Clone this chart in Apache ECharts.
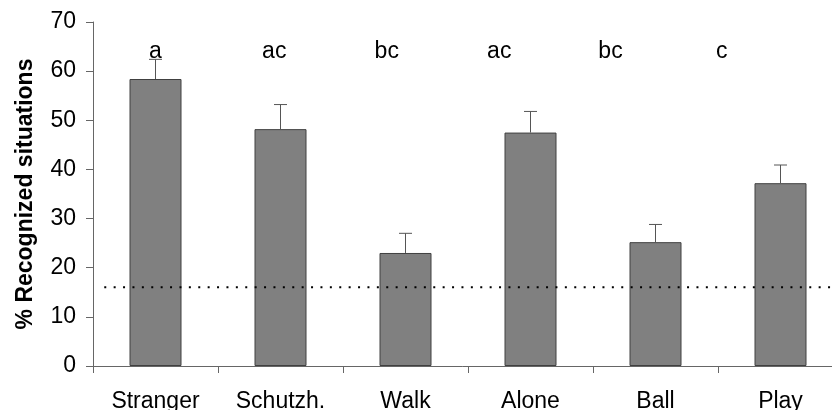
<!DOCTYPE html>
<html>
<head>
<meta charset="utf-8">
<script src="https://cdn.jsdelivr.net/npm/echarts@6/dist/echarts.min.js"></script>
<style>
html,body{margin:0;padding:0;background:#fff;}
#chart{width:832px;height:410px;}
</style>
</head>
<body>
<div id="chart"></div>
<script>
var categories = ['Stranger', 'Schutzh.', 'Walk', 'Alone', 'Ball', 'Play'];
var means = [58.4, 48.2, 23.0, 47.5, 25.2, 37.2];
var errors = [4.0, 5.0, 4.0, 4.3, 3.6, 3.7];
var letters = ['a', 'ac', 'bc', 'ac', 'bc', 'c'];
var letterPos = [0.50, 1.45, 2.35, 3.25, 4.14, 5.03];
var letterLevel = 64;
var chanceLevel = 16;
var yTicks = [0, 10, 20, 30, 40, 50, 60, 70];

var FONT = '"Liberation Sans", Arial, sans-serif';
var AXIS_COLOR = '#666666';

var chart = echarts.init(document.getElementById('chart'), null, {renderer: 'canvas'});

var errData = means.map(function (m, i) { return [i, m, m + errors[i]]; });
var letterData = letters.map(function (l, i) { return [letterPos[i], letterLevel, l]; });
var chanceData = [[0.09, chanceLevel], [6, chanceLevel]];

chart.setOption({
  animation: false,
  backgroundColor: '#ffffff',
  grid: {left: 93, right: -11, top: 22, bottom: 44, containLabel: false, outerBoundsMode: 'none'},
  xAxis: [{
    type: 'category',
    data: categories,
    boundaryGap: true,
    axisLine: {lineStyle: {color: AXIS_COLOR, width: 1}},
    axisTick: {show: true, length: 7, inside: false, lineStyle: {color: AXIS_COLOR}},
    axisLabel: {color: '#000', fontFamily: FONT, fontSize: 23, margin: 24},
    splitLine: {show: false}
  }, {
    type: 'value',
    min: 0, max: 6,
    show: false
  }],
  yAxis: [{
    type: 'value',
    min: yTicks[0],
    max: yTicks[yTicks.length - 1],
    interval: 10,
    name: '% Recognized situations',
    nameLocation: 'middle',
    nameRotate: 90,
    nameGap: 56,
    nameTextStyle: {color: '#000', fontFamily: FONT, fontSize: 23, fontWeight: 'bold'},
    axisLine: {show: true, lineStyle: {color: AXIS_COLOR, width: 1}},
    axisTick: {show: true, length: 7, inside: false, lineStyle: {color: AXIS_COLOR}},
    axisLabel: {color: '#000', fontFamily: FONT, fontSize: 23, margin: 17},
    splitLine: {show: false}
  }],
  series: [{
    type: 'bar',
    data: means,
    barWidth: '41.6%',
    itemStyle: {color: '#808080', borderColor: '#404040', borderWidth: 1}
  }, {
    type: 'line',
    xAxisIndex: 1,
    data: chanceData,
    symbol: 'none',
    silent: true,
    z: 4,
    lineStyle: {color: '#000', type: [2, 7.4], width: 2}
  }, {
    type: 'custom',
    data: errData,
    z: 3,
    renderItem: function (params, api) {
      var base = api.coord([api.value(0), api.value(1)]);
      var top = api.coord([api.value(0), api.value(2)]);
      var hw = 6.5;
      var style = {stroke: '#555555', lineWidth: 1, fill: null};
      return {
        type: 'group',
        children: [
          {type: 'line', shape: {x1: base[0], y1: base[1], x2: top[0], y2: top[1]}, style: style},
          {type: 'line', shape: {x1: top[0] - hw, y1: top[1], x2: top[0] + hw, y2: top[1]}, style: style}
        ]
      };
    }
  }, {
    type: 'custom',
    xAxisIndex: 1,
    data: letterData,
    renderItem: function (params, api) {
      var p = api.coord([api.value(0), api.value(1)]);
      return {
        type: 'text',
        x: p[0], y: p[1],
        style: {
          text: letters[params.dataIndex],
          fill: '#000',
          font: '23px ' + FONT,
          align: 'center',
          verticalAlign: 'middle'
        }
      };
    }
  }]
});
</script>
</body>
</html>
